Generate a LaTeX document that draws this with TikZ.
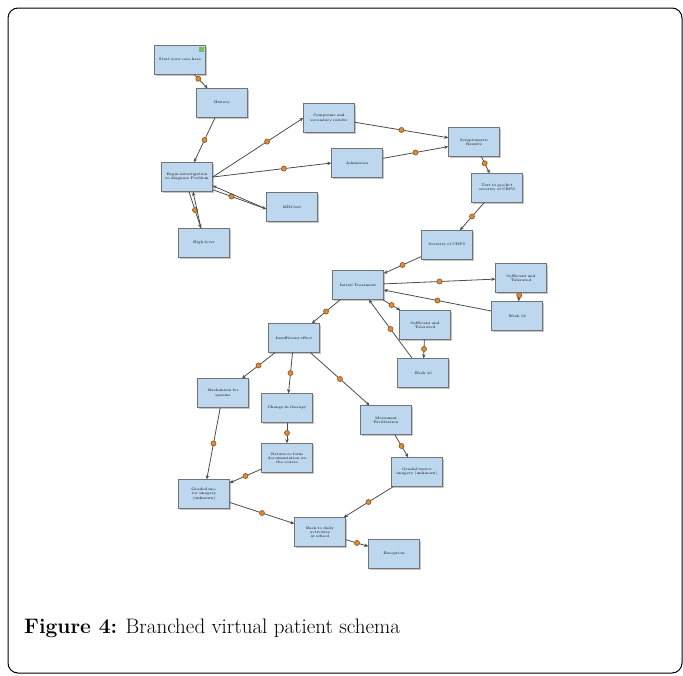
\documentclass[tikz,border=0pt]{standalone}
\usepackage{tikz}
\usetikzlibrary{arrows.meta, shadows}
\definecolor{boxblue}{RGB}{189,215,238}
\definecolor{dotorange}{RGB}{222,140,62}
\definecolor{startgreen}{RGB}{120,190,90}

\begin{document}
\begin{tikzpicture}[x=1pt,y=-1pt,
    box/.style={draw=black!55, fill=boxblue, minimum width=51pt, minimum height=29pt,
      text width=45pt, align=center, inner sep=1pt, font=\fontsize{3.6}{4.2}\selectfont,
      drop shadow={shadow xshift=1.2pt, shadow yshift=-1.2pt, fill=black!45}},
    link/.style={-{Stealth[length=4pt,width=3.5pt]}, draw=black!70, line width=0.8pt},
    dot/.style={circle, fill=dotorange, draw=dotorange!70!black, inner sep=0pt, minimum size=5pt}]
    \useasboundingbox (0,0) rectangle (683,675);
    \draw[line width=1pt, rounded corners=10pt] (8,8) rectangle (682,673); %frame

    % boxes
    \node[box] (start) at (180,60) {Start your case here};
    \fill[startgreen] (199,47) rectangle (204,52);
    \node[box] (hist) at (222,103) {History};
    \node[box] (begin) at (187,177) {Begin investigation\\ to diagnose Problem};
    \node[box] (mri) at (292,207) {MRI test};
    \node[box] (high) at (204,243) {High fever};
    \node[box] (symp) at (329,118) {Symptoms and\\ secondary results};
    \node[box] (adm) at (357,163) {Admission};
    \node[box] (sres) at (474,142) {Symptomatic Results};
    \node[box] (test) at (497,188) {Test to predict\\ severity of CRPS};
    \node[box] (sev) at (447,245) {Severity of CRPS};
    \node[box] (init) at (358,285) {Initial Treatment};
    \node[box] (sufa) at (521,278) {Sufficient and\\ Tolerated};
    \node[box] (wka) at (517,316) {Week 12};
    \node[box] (sufb) at (425,325) {Sufficient and\\ Tolerated};
    \node[box] (wkb) at (423,373) {Week 16};
    \node[box] (insuf) at (294,338) {Insufficient effect};
    \node[box] (mech) at (223,393) {Mechanism for\\ spasms};
    \node[box] (chg) at (287,408) {Change in therapy};
    \node[box] (move) at (386,420) {Movement\\ Facilitation};
    \node[box] (ret) at (287,458) {Return to form\\ documentation on\\ the course};
    \node[box] (grb) at (417,472) {Graded motor\\ imagery (unknown)};
    \node[box] (gra) at (204,494) {Graded motor imagery\\ (unknown)};
    \node[box] (back) at (320,532) {Back to daily activities\\ at school};
    \node[box] (exc) at (394,554) {Exception};

    % connectors
    \draw[link] (start) -- node[dot,pos=0.3]{} (hist);
    \draw[link] (hist) -- node[dot]{} (begin);
    \draw[link] (begin.east) -- node[dot,pos=0.6]{} (symp.west);
    \draw[link] (begin.east) -- node[dot,pos=0.6]{} (adm.west);
    \draw[link] ([yshift=2pt]begin.south east) -- node[dot,pos=0.35]{} ([yshift=-2pt]mri.west);
    \draw[link] ([yshift=-2pt]mri.west) -- ([yshift=6pt]begin.south east);
    \draw[link] ([xshift=2pt]begin.south) -- node[dot]{} ([xshift=-3pt]high.north);
    \draw[link] ([xshift=-3pt]high.north) -- ([xshift=6pt]begin.south);
    \draw[link] (symp) -- node[dot]{} (sres);
    \draw[link] (adm) -- node[dot]{} (sres);
    \draw[link] (sres) -- node[dot,pos=0.4]{} (test);
    \draw[link] (test) -- node[dot]{} (sev);
    \draw[link] (sev) -- node[dot]{} (init);
    \draw[link] (init) -- node[dot]{} (sufa);
    \draw[link] (sufa) -- node[dot,pos=0.3]{} (wka);
    \draw[link] (wka) -- node[dot]{} (init);
    \draw[link] (init) -- node[dot]{} (sufb);
    \draw[link] (sufb) -- node[dot]{} (wkb);
    \draw[link] (wkb) -- node[dot]{} (init);
    \draw[link] (init) -- node[dot]{} (insuf);
    \draw[link] (insuf) -- node[dot]{} (mech);
    \draw[link] (insuf) -- node[dot]{} (chg);
    \draw[link] (insuf) -- node[dot]{} (move);
    \draw[link] (mech) -- node[dot]{} (gra);
    \draw[link] (chg) -- node[dot]{} (ret);
    \draw[link] (ret) -- node[dot]{} (gra);
    \draw[link] (move) -- node[dot]{} (grb);
    \draw[link] (grb) -- node[dot]{} (back);
    \draw[link] (gra) -- node[dot]{} (back);
    \draw[link] (back) -- node[dot]{} (exc);

    \node[anchor=base west, inner sep=0pt, font=\fontsize{21}{24}\selectfont] (cap) at (24,633)
      {\textbf{Figure 4:} Branched virtual patient schema}; %caption
\end{tikzpicture}
\end{document}
